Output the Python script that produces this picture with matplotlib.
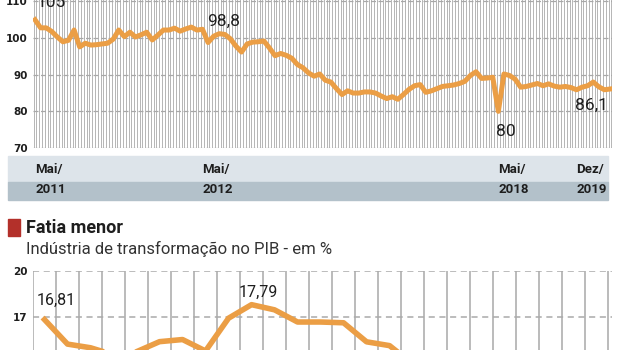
import matplotlib.pyplot as plt
import matplotlib.transforms as mtransforms
from matplotlib.patches import Rectangle

# --- dados: indice mensal (grafico de cima) ---
top_values = [
    105.0, 102.8, 102.8, 101.8, 100.3, 99.0, 99.4, 102.2, 97.6, 98.6,
    98.1, 98.2, 98.4, 98.6, 99.7, 102.2, 100.4, 101.6, 100.3, 100.9,
    101.6, 99.5, 100.8, 102.2, 102.2, 102.7, 101.9, 102.5, 103.0, 102.2,
    102.4, 98.8, 100.5, 101.2, 101.0, 99.8, 97.8, 96.2, 98.4, 98.9,
    99.0, 99.2, 97.3, 95.2, 95.8, 95.3, 94.5, 92.8, 91.9, 90.5,
    89.6, 90.2, 88.5, 88.0, 86.2, 84.6, 85.6, 85.0, 85.0, 85.3,
    85.3, 85.0, 84.2, 83.5, 84.0, 83.3, 84.6, 86.0, 87.0, 87.3,
    85.2, 85.6, 86.2, 86.8, 87.0, 87.2, 87.6, 88.2, 89.8, 90.8,
    89.0, 89.1, 89.3, 80.0, 90.2, 89.8, 88.8, 86.6, 86.8, 87.2,
    87.6, 87.0, 87.5, 86.9, 86.6, 86.8, 86.5, 85.9, 86.6, 87.0,
    88.0, 86.7, 85.9, 86.1,
]
top_ticks = [70, 80, 90, 100, 110]
top_label_pos = [0, 30, 83, 97]
top_label_month = ["Mai/", "Mai/", "Mai/", "Dez/"]
top_label_year = ["2011", "2012", "2018", "2019"]
top_notes = [(0, "105"), (31, "98,8"), (83, "80"), (103, "86,1")]

# --- dados: industria de transformacao no PIB (grafico de baixo) ---
years = list(range(1995, 2020))
pib_share = [
    16.81, 15.2, 14.96, 14.5, 14.7, 15.36, 15.5, 14.75, 16.9, 17.79,
    17.45, 16.65, 16.65, 16.6, 15.35, 15.1, 13.9, 12.6, 12.3, 12.0,
    12.2, 12.5, 12.4, 11.3, 11.0,
]
bottom_grid = [11, 14, 17, 20]
bottom_ticks = [17, 20]
bottom_notes = [(0, "16,81"), (9, "17,79")]

ORANGE = "#eb9e45"
GRID = "#b5b5b5"
DARK = "#1e1e1e"
bold_font = ["Roboto", "DejaVu Sans"]
note_font = ["Roboto", "DejaVu Sans"]

fig = plt.figure(figsize=(6.17, 3.5), dpi=100)
W, H = 617.0, 350.0

# ---------------- grafico de cima ----------------
ax1 = fig.add_axes([33 / W, 1 - 148 / H, 579 / W, 148 / H])
n = len(top_values)
xs = list(range(n))
ax1.set_xlim(-0.36, n - 1 + 0.36)
ax1.set_ylim(70, 110.4)
for i in xs:
    ax1.axvline(i - 0.25, color=GRID, lw=0.7, zorder=1)
    ax1.axvline(i + 0.25, color=GRID, lw=0.7, zorder=1)
for t in top_ticks:
    ax1.axhline(t, color="#a8a8a8", lw=0.9, ls=(0, (4, 2)), zorder=1)
ax1.plot(xs, top_values, color=ORANGE, lw=3.6, solid_joinstyle="round", zorder=3)
ax1.set_yticks(top_ticks)
ax1.set_yticklabels([str(t) for t in top_ticks], fontsize=7.5, fontweight="bold",
                    color=DARK)
ax1.set_xticks([])
ax1.tick_params(axis="y", length=0, pad=4)
for s in ax1.spines.values():
    s.set_visible(False)

note_y = {0: 109.6, 31: 104.6, 83: 74.6, 103: 81.6}
note_ha = {0: "left", 31: "left", 83: "center", 103: "right"}
note_dx = {0: 0.2, 31: -0.1, 83: 1.4, 103: -0.3}
for idx, txt in top_notes:
    ax1.text(idx + note_dx[idx], note_y[idx], txt, ha=note_ha[idx], va="center",
             fontsize=12.5, color=DARK, family=note_font, zorder=4)

# faixa com os rotulos de data
fig.patches.append(Rectangle((8 / W, 1 - 182 / H), 600 / W, 26 / H,
                             transform=fig.transFigure, color="#dde4ea", zorder=0))
fig.patches.append(Rectangle((8 / W, 1 - 200 / H), 600 / W, 18 / H,
                             transform=fig.transFigure, color="#b3c1ca", zorder=0))
trans = mtransforms.blended_transform_factory(ax1.transData, fig.transFigure)
for pos, m, y in zip(top_label_pos, top_label_month, top_label_year):
    fig.text(pos, 1 - 169 / H, m, transform=trans, ha="left", va="center",
             fontsize=9.5, fontweight="bold", color=DARK, family=bold_font)
    fig.text(pos, 1 - 190 / H, y, transform=trans, ha="left", va="center",
             fontsize=9.5, fontweight="bold", color=DARK, family=bold_font)

# ---------------- titulo ----------------
fig.patches.append(Rectangle((8 / W, 1 - 236 / H), 12 / W, 17 / H,
                             transform=fig.transFigure, color="#b3302a", zorder=2))
fig.text(26 / W, 1 - 228 / H, "Fatia menor", ha="left", va="center",
         fontsize=13, fontweight="bold", color=DARK, family=bold_font)
fig.text(26 / W, 1 - 249 / H, "Indústria de transformação no PIB - em %",
         ha="left", va="center", fontsize=12, color="#333333", family=note_font)

# ---------------- grafico de baixo ----------------
ax2 = fig.add_axes([33 / W, (H - 271) / H - 152.3 / H, 579 / W, 152.3 / H])
bx = list(range(len(years)))
ax2.set_xlim(-0.5, len(years) - 0.33)
ax2.set_ylim(10, 20)
for i in range(len(years) + 1):
    ax2.axvline(i - 0.5, color=GRID, lw=1.3, zorder=1)
for t in bottom_grid:
    ax2.axhline(t, color="#aaaaaa", lw=1.1, ls=(0, (4, 3)), zorder=1)
ax2.plot(bx, pib_share, color=ORANGE, lw=4, solid_joinstyle="round", zorder=3)
ax2.set_yticks(bottom_ticks)
ax2.set_yticklabels([str(t) for t in bottom_ticks], fontsize=7.5, fontweight="bold",
                    color=DARK)
ax2.set_xticks([])
ax2.tick_params(axis="y", length=0, pad=4)
for s in ax2.spines.values():
    s.set_visible(False)

bnote_y = {0: 18.1, 9: 18.6}
bnote_dx = {0: -0.33, 9: -0.55}
for idx, txt in bottom_notes:
    ax2.text(idx + bnote_dx[idx], bnote_y[idx], txt, ha="left", va="center",
             fontsize=11.5, color=DARK, family=note_font, zorder=4)

fig.savefig("out.png", dpi=100)
